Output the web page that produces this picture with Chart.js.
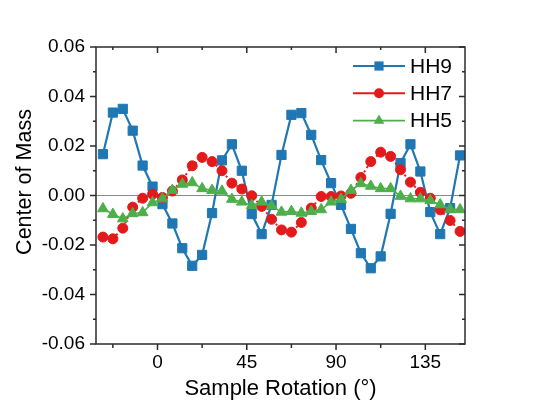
<!doctype html>
<html><head><meta charset="utf-8">
<title>Center of Mass vs Sample Rotation</title>
<script src="https://cdn.jsdelivr.net/npm/chart.js"></script>
<style>
  html, body { margin: 0; padding: 0; background: #fff; }
  canvas { display: block; }
</style>
</head><body>
<canvas id="com" width="540" height="413"></canvas>
<script>
// sample rotation angles (deg)
const angles = [-27.5, -22.5, -17.5, -12.5, -7.5, -2.5, 2.5, 7.5, 12.5, 17.5, 22.5, 27.5, 32.5,
  37.5, 42.5, 47.5, 52.5, 57.5, 62.5, 67.5, 72.5, 77.5, 82.5, 87.5, 92.5, 97.5, 102.5,
  107.5, 112.5, 117.5, 122.5, 127.5, 132.5, 137.5, 142.5, 147.5, 152.5];

const hh9 = [0.0167, 0.0335, 0.0350, 0.0262, 0.0121, 0.0036, -0.0035, -0.0113, -0.0213, -0.0284,
  -0.0240, -0.0071, 0.0142, 0.0207, 0.0100, -0.0075, -0.0156, -0.0038, 0.0164, 0.0326,
  0.0333, 0.0245, 0.0143, 0.0050, -0.0038, -0.0135, -0.0233, -0.0294, -0.0246, -0.0074,
  0.0131, 0.0207, 0.0097, -0.0067, -0.0156, -0.0051, 0.0162];
const hh7 = [-0.0168, -0.0175, -0.0132, -0.0047, -0.0011, 0.0005, -0.0008, 0.0018, 0.0063, 0.0120,
  0.0154, 0.0137, 0.0100, 0.0050, 0.0026, -0.0001, -0.0044, -0.0096, -0.0139, -0.0148,
  -0.0109, -0.0051, -0.0004, -0.0004, -0.0002, 0.0009, 0.0073, 0.0137, 0.0175, 0.0158,
  0.0104, 0.0054, 0.0013, -0.0011, -0.0058, -0.0101, -0.0145];
const hh5 = [-0.0053, -0.0076, -0.0094, -0.0073, -0.0069, -0.0029, -0.0013, 0.0021, 0.0046, 0.0052,
  0.0028, 0.0021, 0.0018, -0.0015, -0.0026, -0.0040, -0.0026, -0.0042, -0.0067, -0.0064,
  -0.0071, -0.0064, -0.0057, -0.0026, -0.0015, 0.0021, 0.0048, 0.0038, 0.0028, 0.0028,
  -0.0003, -0.0013, -0.0013, -0.0020, -0.0037, -0.0056, -0.0057];

const seriesNames = ['HH9', 'HH7', 'HH5'];
const xTicks = [0, 45, 90, 135];
const xMinorTicks = [-22.5, 22.5, 67.5, 112.5];
const yTicks = [-0.06, -0.04, -0.02, 0, 0.02, 0.04, 0.06];
const yMinorTicks = [-0.05, -0.03, -0.01, 0.01, 0.03, 0.05];

const FONT = "'Liberation Sans', Arial, sans-serif";
const toPts = ys => angles.map((a, i) => ({ x: a, y: ys[i] }));

// frame, mirrored ticks, zero line, y title and legend (line + marker)
const framePlugin = {
  id: 'frame',
  beforeDatasetsDraw(chart) {
    const { ctx, chartArea: a, scales: { y } } = chart;
    const y0 = y.getPixelForValue(0);
    ctx.save();
    ctx.strokeStyle = '#8a8a8a';
    ctx.lineWidth = 1;
    ctx.beginPath();
    ctx.moveTo(a.left, y0); ctx.lineTo(a.right, y0);
    ctx.stroke();
    ctx.restore();
  },
  afterDatasetsDraw(chart) {
    const { ctx, chartArea: a, scales: { x, y } } = chart;
    ctx.save();
    ctx.strokeStyle = '#2b2b2b';
    ctx.lineWidth = 1.5;
    ctx.strokeRect(a.left, a.top, a.right - a.left, a.bottom - a.top);
    ctx.beginPath();
    const xt = (v, len, lenIn) => {
      const p = x.getPixelForValue(v);
      ctx.moveTo(p, a.bottom); ctx.lineTo(p, a.bottom + len);
      ctx.moveTo(p, a.top); ctx.lineTo(p, a.top + lenIn);
    };
    const yt = (v, len, lenIn) => {
      const p = y.getPixelForValue(v);
      ctx.moveTo(a.left, p); ctx.lineTo(a.left - len, p);
      ctx.moveTo(a.right, p); ctx.lineTo(a.right - lenIn, p);
    };
    xTicks.forEach(v => xt(v, 6, 6));
    xMinorTicks.forEach(v => xt(v, 4, 3));
    yTicks.forEach(v => yt(v, 6, 6));
    yMinorTicks.forEach(v => yt(v, 3, 3));
    ctx.stroke();

    // y axis title
    ctx.fillStyle = '#000';
    ctx.font = '21.5px ' + FONT;
    ctx.textAlign = 'center';
    ctx.textBaseline = 'middle';
    ctx.translate(25, 182);
    ctx.rotate(-Math.PI / 2);
    ctx.fillText('Center of Mass', 0, 0);
    ctx.restore();

    // legend
    ctx.save();
    chart.data.datasets.forEach((ds, i) => {
      const ly = 66 + i * 27.3;
      ctx.strokeStyle = ds.borderColor;
      ctx.lineWidth = ds.borderWidth;
      ctx.beginPath();
      ctx.moveTo(353, ly); ctx.lineTo(405, ly);
      ctx.stroke();
      ctx.fillStyle = ds.pointBackgroundColor;
      ctx.beginPath();
      const mx = 379, r = ds.pointRadius;
      if (ds.pointStyle === 'rect') {
        const s = r * Math.SQRT1_2;
        ctx.rect(mx - s, ly - s, 2 * s, 2 * s);
      } else if (ds.pointStyle === 'circle') {
        ctx.arc(mx, ly, r, 0, Math.PI * 2);
      } else {
        ctx.moveTo(mx, ly - r);
        ctx.lineTo(mx + r * Math.sin(Math.PI * 2 / 3), ly + r * 0.5);
        ctx.lineTo(mx - r * Math.sin(Math.PI * 2 / 3), ly + r * 0.5);
        ctx.closePath();
      }
      ctx.fill();
      ctx.fillStyle = '#000';
      ctx.font = '21px ' + FONT;
      ctx.textAlign = 'left';
      ctx.textBaseline = 'middle';
      ctx.fillText(ds.label, 410, ly + 1);
    });
    ctx.restore();
  }
};

new Chart(document.getElementById('com'), {
  type: 'line',
  data: {
    datasets: [
      { label: seriesNames[0], data: toPts(hh9), borderColor: '#1f77b4', borderWidth: 2.2,
        pointStyle: 'rect', pointRadius: 6.5, pointBackgroundColor: '#1f77b4',
        pointBorderColor: '#1f77b4', pointBorderWidth: 1, order: 2 },
      { label: seriesNames[1], data: toPts(hh7), borderColor: '#e31a1c', borderWidth: 2,
        borderDash: [2, 3], pointStyle: 'circle', pointRadius: 5, pointBackgroundColor: '#e31a1c',
        pointBorderColor: '#e31a1c', pointBorderWidth: 1, order: 1 },
      { label: seriesNames[2], data: toPts(hh5), borderColor: '#4daf4a', borderWidth: 1.6,
        pointStyle: 'triangle', pointRadius: 6.2, pointBackgroundColor: '#4daf4a',
        pointBorderColor: '#4daf4a', pointBorderWidth: 1, order: 0 }
    ]
  },
  options: {
    responsive: false,
    animation: false,
    layout: { padding: { top: 47, right: 75, left: 0, bottom: 0 } },
    plugins: { legend: { display: false }, tooltip: { enabled: false } },
    scales: {
      x: {
        type: 'linear', min: -31, max: 155,
        afterFit: s => { s.height = 69; },
        afterBuildTicks: s => { s.ticks = xTicks.map(v => ({ value: v })); },
        grid: { display: false, drawTicks: false },
        border: { display: false },
        ticks: { color: '#000', padding: 7, font: { family: FONT, size: 19 },
          callback: v => String(v) },
        title: { display: true, text: 'Sample Rotation (°)', color: '#000',
          font: { family: FONT, size: 22 }, padding: { top: 0, bottom: 11 } }
      },
      y: {
        min: -0.06, max: 0.06,
        afterFit: s => { s.width = 96; },
        afterBuildTicks: s => { s.ticks = yTicks.map(v => ({ value: v })); },
        grid: { display: false, drawTicks: false },
        border: { display: false },
        ticks: { color: '#000', padding: 11, font: { family: FONT, size: 19 },
          callback: v => (Math.abs(v) < 1e-9 ? 0 : v).toFixed(2) }
      }
    }
  },
  plugins: [framePlugin]
});
</script>
</body></html>
